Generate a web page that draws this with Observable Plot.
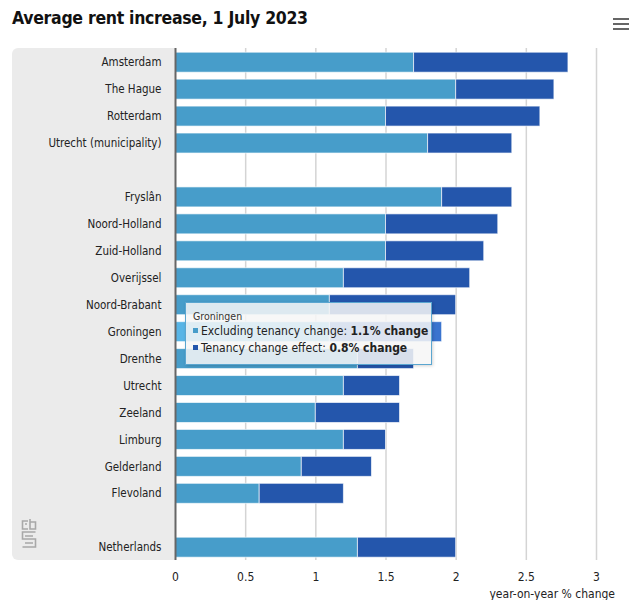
<!DOCTYPE html>
<html>
<head>
<meta charset="utf-8">
<script src="https://cdn.jsdelivr.net/npm/d3@7"></script>
<script src="https://cdn.jsdelivr.net/npm/@observablehq/plot@0.6"></script>
<style>
  html, body { margin: 0; padding: 0; background: #fff; }
  #wrap { position: relative; width: 629px; height: 600px; overflow: hidden;
          font-family: "DejaVu Sans Condensed", Roboto, sans-serif; color: #222; }
  #title { position: absolute; left: 12px; top: 6px; font-size: 17.5px; letter-spacing: -0.3px; font-weight: bold; line-height: 24px; color: #111; }
  #panel { position: absolute; left: 12px; top: 48px; width: 163px; height: 512px; background: #ebebeb; border-radius: 6px 0 0 6px; }
  #chart { position: absolute; left: 0; top: 45px; }
  #xlabel { position: absolute; right: 14px; top: 587px; font-size: 12px; line-height: 14px; color: #222; }
  #menu { position: absolute; left: 613px; top: 18px; width: 16px; }
  #menu div { height: 2px; background: #666; margin-bottom: 3px; }
  #logo { position: absolute; left: 21px; top: 519px; }
  #tip { position: absolute; left: 185px; top: 302px; width: 247px; height: 63px; box-sizing: border-box;
         background: rgba(246,246,246,0.86); border: 1px solid #5aa6d0; box-shadow: 1px 1px 3px rgba(0,0,0,0.18);
         padding: 7px 7px; font-size: 12px; color: #222; }
  #tip .head { font-size: 10.5px; color: #333; line-height: 13px; }
  #tip .row { line-height: 16.5px; white-space: nowrap; }
  #tip .sw { display: inline-block; width: 5px; height: 5px; margin-right: 3px; vertical-align: middle; position: relative; top: -1px; }
</style>
</head>
<body>
<div id="wrap">
  <div id="title"></div>
  <div id="menu"><div></div><div></div><div></div></div>
  <div id="panel"></div>
  <div id="chart"></div>
  <svg id="logo" width="16" height="31" viewBox="0 0 16 31" fill="none" stroke="#a8a8a8" stroke-width="1.6">
    <path d="M7 2 H1.5 V10 H7"/>
    <path d="M4 5 H6"/>
    <path d="M9 0 V10 H14.5 V3 H9"/>
    <path d="M14.5 13 H1.5 V20 H14.5 V28 H1.5"/>
    <path d="M4 17 H12 M4 24 H12"/>
  </svg>
  <div id="xlabel"></div>
  <div id="tip"></div>
</div>
<script>
const title = "Average rent increase, 1 July 2023";
const xLabel = "year-on-year % change";
const seriesNames = ["Excluding tenancy change", "Tenancy change effect"];
const seriesColors = ["#479dca", "#2456ac"];
const highlightColors = ["#58b5e6", "#3a74cf"];
const regions = ["Amsterdam","The Hague","Rotterdam","Utrecht (municipality)","Fryslân","Noord-Holland","Zuid-Holland","Overijssel","Noord-Brabant","Groningen","Drenthe","Utrecht","Zeeland","Limburg","Gelderland","Flevoland","Netherlands"];
const excludingTenancy = [1.7,2.0,1.5,1.8,1.9,1.5,1.5,1.2,1.1,1.1,1.3,1.2,1.0,1.2,0.9,0.6,1.3];
const tenancyEffect =    [1.1,0.7,1.1,0.6,0.5,0.8,0.7,0.9,0.9,0.8,0.4,0.4,0.6,0.3,0.5,0.6,0.7];
const rowOrder = ["Amsterdam","The Hague","Rotterdam","Utrecht (municipality)"," ","Fryslân","Noord-Holland","Zuid-Holland","Overijssel","Noord-Brabant","Groningen","Drenthe","Utrecht","Zeeland","Limburg","Gelderland","Flevoland","  ","Netherlands"];
const xTicks = [0, 0.5, 1, 1.5, 2, 2.5, 3];
const hovered = "Groningen";

document.getElementById("title").textContent = title;
document.getElementById("xlabel").textContent = xLabel;

const data = [];
regions.forEach((r, i) => {
  data.push({region: r, series: 0, value: excludingTenancy[i]});
  data.push({region: r, series: 1, value: tenancyEffect[i]});
});

const chart = Plot.plot({
  width: 629,
  height: 555,
  marginLeft: 175,
  marginRight: 33,
  marginTop: 3,
  marginBottom: 40,
  style: {fontFamily: '"DejaVu Sans Condensed", Roboto, sans-serif', fontSize: "11.5px", color: "#222", background: "transparent"},
  x: {domain: [0, 3]},
  y: {domain: rowOrder, paddingInner: 0.258, paddingOuter: 0.13, align: 0.6, round: false},
  color: {type: "identity"},
  marks: [
    Plot.gridX(xTicks.filter(d => d > 0), {stroke: "#d4d4d4", strokeOpacity: 1, strokeWidth: 1.5}),
    Plot.barX(data, Plot.stackX({
      x: "value", y: "region",
      fill: d => (d.region === hovered ? highlightColors : seriesColors)[d.series],
      stroke: "#ffffff", strokeOpacity: 0.65, strokeWidth: 1
    })),
    Plot.ruleX([0], {stroke: "#666", strokeWidth: 2}),
    Plot.axisX({ticks: xTicks, tickSize: 0, tickPadding: 12, label: null, tickFormat: d => String(d), fontSize: 12}),
    Plot.axisY({tickSize: 0, tickPadding: 14, label: null, tickFormat: d => d.trim() === "" ? "" : d})
  ]
});
document.getElementById("chart").appendChild(chart);

// Tooltip for hovered region
const hi = regions.indexOf(hovered);
const tip = document.getElementById("tip");
const head = document.createElement("div");
head.className = "head";
head.textContent = hovered;
tip.appendChild(head);
[excludingTenancy[hi], tenancyEffect[hi]].forEach((v, k) => {
  const row = document.createElement("div");
  row.className = "row";
  const sw = document.createElement("span");
  sw.className = "sw";
  sw.style.background = seriesColors[k];
  row.appendChild(sw);
  row.appendChild(document.createTextNode(seriesNames[k] + ": "));
  const b = document.createElement("b");
  b.textContent = v.toFixed(1) + "% change";
  row.appendChild(b);
  tip.appendChild(row);
});
</script>
</body>
</html>
